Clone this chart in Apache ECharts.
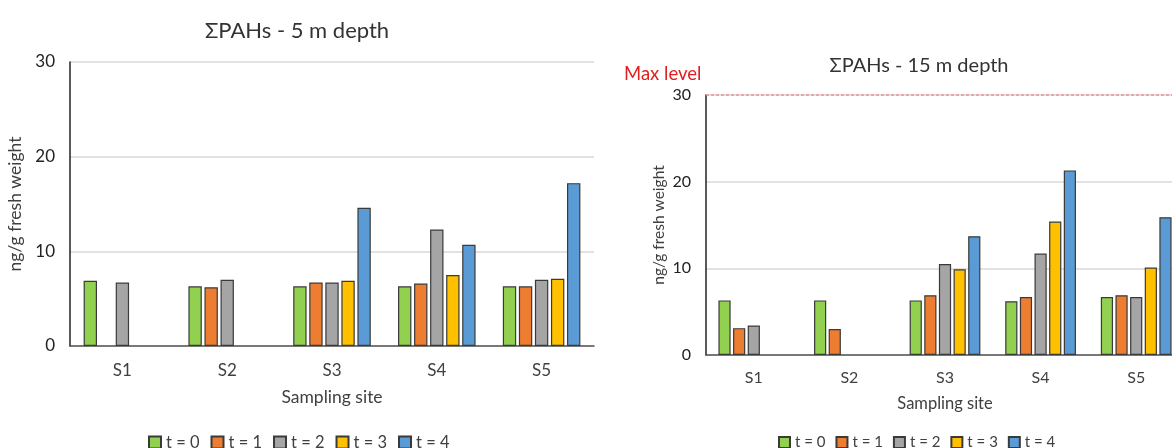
<!DOCTYPE html>
<html>
<head>
<meta charset="utf-8">
<script src="https://cdn.jsdelivr.net/npm/echarts@6/dist/echarts.min.js"></script>
<style>html,body{margin:0;padding:0;background:#fff;overflow:hidden;width:1172px;height:448px}#c{width:1184px;height:448px}</style>
</head>
<body>
<div id="c"></div>
<script>
const sites = ['S1', 'S2', 'S3', 'S4', 'S5'];
const seriesNames = ['t = 0', 't = 1', 't = 2', 't = 3', 't = 4'];
const colors = ['#92D050', '#ED7D31', '#A5A5A5', '#FFC000', '#5B9BD5'];
const yTicks = [0, 10, 20, 30];
const maxLevel = 30;
// 5 m depth
const d5_t0 = [6.9, 6.3, 6.3, 6.3, 6.3];
const d5_t1 = [null, 6.2, 6.7, 6.6, 6.3];
const d5_t2 = [6.7, 7.0, 6.7, 12.3, 7.0];
const d5_t3 = [null, null, 6.9, 7.5, 7.1];
const d5_t4 = [null, null, 14.6, 10.7, 17.2];
// 15 m depth
const d15_t0 = [6.3, 6.3, 6.3, 6.2, 6.7];
const d15_t1 = [3.1, 3.0, 6.9, 6.7, 6.9];
const d15_t2 = [3.4, null, 10.5, 11.7, 6.7];
const d15_t3 = [null, null, 9.9, 15.4, 10.1];
const d15_t4 = [null, null, 13.7, 21.3, 15.9];

const d5 = [d5_t0, d5_t1, d5_t2, d5_t3, d5_t4];
const d15 = [d15_t0, d15_t1, d15_t2, d15_t3, d15_t4];

const FONT = 'Lato, "Open Sans", sans-serif';
const txt = '#404040';

function xAxis(gi, margin, gap, fs, nfs) {
  return {
    type: 'category', gridIndex: gi, data: sites,
    axisTick: {show: false},
    axisLine: {lineStyle: {color: '#555', width: 1.5}},
    axisLabel: {color: txt, fontSize: fs, fontFamily: FONT, margin: margin},
    name: 'Sampling site', nameLocation: 'middle', nameGap: gap,
    nameTextStyle: {color: txt, fontSize: nfs, fontFamily: FONT}
  };
}
function yAxis(gi, gap, margin, fs, nfs) {
  return {
    type: 'value', gridIndex: gi, min: yTicks[0], max: yTicks[yTicks.length - 1], interval: 10,
    axisLine: {show: true, lineStyle: {color: '#222', width: 1.5}},
    axisTick: {show: false},
    splitLine: {lineStyle: {color: '#d9d9d9', width: 1.5}},
    axisLabel: {color: '#222', fontSize: fs, fontFamily: FONT, margin: margin},
    name: 'ng/g fresh weight', nameLocation: 'middle', nameGap: gap, nameRotate: 90,
    nameTextStyle: {color: txt, fontSize: nfs, fontFamily: FONT}
  };
}

const maxLineStyle = {color: '#F09090', type: [3, 2], width: 1.5, opacity: 1};

const series = [];
[d5, d15].forEach(function (set, gi) {
  set.forEach(function (vals, i) {
    const s = {
      name: seriesNames[i], type: 'bar', xAxisIndex: gi, yAxisIndex: gi,
      data: vals, barCategoryGap: '26%', barGap: '20%',
      itemStyle: {color: colors[i], borderColor: '#3a3a3a', borderWidth: 1.2},
      emphasis: {disabled: true}
    };
    if (gi === 1 && i === 0) {
      s.markLine = {
        silent: true, symbol: ['none', 'none'], z: 10,
        lineStyle: maxLineStyle,
        emphasis: {disabled: true, lineStyle: maxLineStyle},
        label: {show: false},
        data: [{yAxis: maxLevel, lineStyle: maxLineStyle}]
      };
    }
    series.push(s);
  });
});

const legendCommon = {data: seriesNames, icon: 'rect', padding: 0};

const chart = echarts.init(document.getElementById('c'), null, {renderer: 'canvas'});
chart.setOption({
  animation: false,
  title: [
    {text: 'ΣPAHs - 5 m depth', left: 292, top: 15, textAlign: 'center',
     textStyle: {fontSize: 22, fontWeight: 'normal', color: '#333', fontFamily: FONT}},
    {text: 'ΣPAHs - 15 m depth', left: 914, top: 51, textAlign: 'center',
     textStyle: {fontSize: 20, fontWeight: 'normal', color: '#333', fontFamily: FONT}},
    {text: 'Max level', left: 619, top: 60,
     textStyle: {fontSize: 18.5, fontWeight: 'normal', color: '#E02020', fontFamily: FONT}}
  ],
  grid: [
    {left: 70, width: 524, top: 62, height: 284},
    {left: 706, right: 0, top: 95, height: 260}
  ],
  xAxis: [xAxis(0, 16, 42, 17, 17.5), xAxis(1, 15, 40, 16, 16.5)],
  yAxis: [yAxis(0, 46, 15, 17, 17.5), yAxis(1, 39, 15, 16, 15.5)],
  legend: [
    Object.assign({}, legendCommon, {left: 148, top: 434, itemGap: 11, itemWidth: 12, itemHeight: 12,
      textStyle: {color: txt, fontFamily: FONT, fontSize: 16.5}}),
    Object.assign({}, legendCommon, {left: 778, top: 435, itemGap: 10, itemWidth: 11, itemHeight: 11,
      textStyle: {color: txt, fontFamily: FONT, fontSize: 15}})
  ],
  series: series
});
</script>
</body>
</html>
